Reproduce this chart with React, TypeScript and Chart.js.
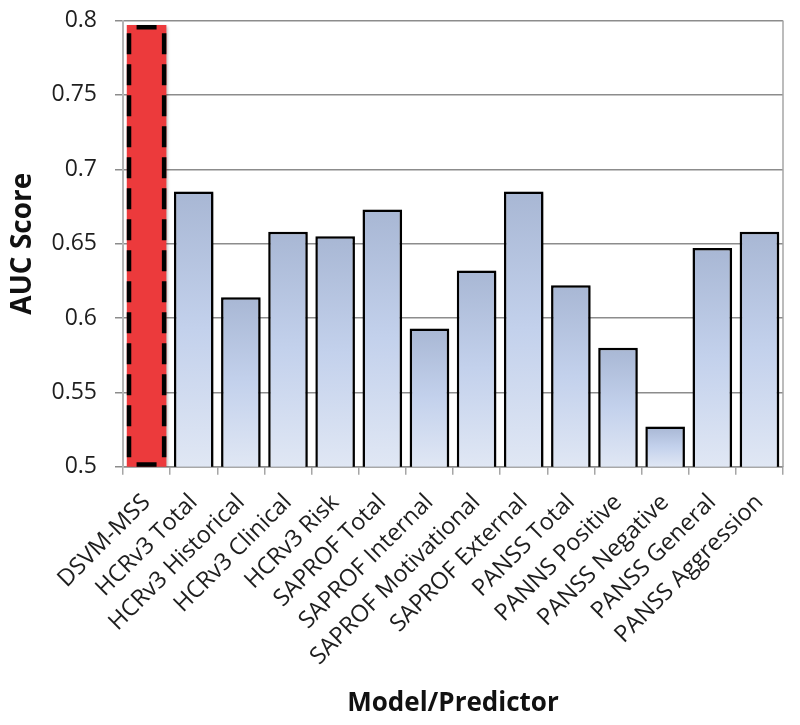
import React, { useEffect, useRef } from "react";
import { Chart, registerables } from "chart.js";

Chart.register(...registerables);

const categories = [
  "DSVM-MSS",
  "HCRv3 Total",
  "HCRv3 Historical",
  "HCRv3 Clinical",
  "HCRv3 Risk",
  "SAPROF Total",
  "SAPROF Internal",
  "SAPROF Motivational",
  "SAPROF External",
  "PANSS Total",
  "PANNS Positive",
  "PANSS Negative",
  "PANSS General",
  "PANSS Aggression",
];

const aucValues = [
  0.797, 0.685, 0.614, 0.658, 0.655, 0.673, 0.593, 0.632, 0.685, 0.622, 0.58,
  0.527, 0.647, 0.658,
];

const yTicks = [0.5, 0.55, 0.6, 0.65, 0.7, 0.75, 0.8];

const yTitle = "AUC Score";
const xTitle = "Model/Predictor";

const FONT = "'Open Sans', 'Noto Sans', sans-serif";

export default function App() {
  const ref = useRef<HTMLCanvasElement | null>(null);

  useEffect(() => {
    const canvas = ref.current;
    if (!canvas) return;

    const extras = {
      id: "extras",
      beforeDatasetDraw(chart: any) {
        const ctx = chart.ctx;
        ctx.save();
        ctx.shadowColor = "rgba(0,0,0,0.28)";
        ctx.shadowBlur = 3;
        ctx.shadowOffsetX = 2;
        ctx.shadowOffsetY = 1;
      },
      afterDatasetDraw(chart: any) {
        chart.ctx.restore();
      },
      afterDatasetsDraw(chart: any) {
        const ctx = chart.ctx;
        const { chartArea } = chart;
        const ys = chart.scales.y;
        // right border
        ctx.save();
        ctx.strokeStyle = "#a6a6a6";
        ctx.lineWidth = 1.5;
        ctx.beginPath();
        ctx.moveTo(chartArea.right, chartArea.top);
        ctx.lineTo(chartArea.right, chartArea.bottom);
        ctx.stroke();
        ctx.restore();
        // dashed outline of highlighted bar
        const el: any = chart.getDatasetMeta(0).data[0];
        if (el) {
          const lw = 4.5;
          const x = el.x;
          const w = el.width;
          const l = x - w / 2 + lw / 2;
          const r = x + w / 2 - lw / 2;
          const t = ys.getPixelForValue(aucValues[0]) + lw / 2;
          const b = ys.getPixelForValue(0.5) - lw / 2;
          ctx.save();
          ctx.strokeStyle = "#000";
          ctx.lineWidth = lw;
          ctx.setLineDash([21, 10]);
          ctx.lineDashOffset = -6;
          ctx.beginPath();
          ctx.moveTo(l, t);
          ctx.lineTo(l, b);
          ctx.stroke();
          ctx.beginPath();
          ctx.moveTo(r, t);
          ctx.lineTo(r, b);
          ctx.stroke();
          ctx.setLineDash([]);
          ctx.beginPath();
          ctx.moveTo(x - 10, t);
          ctx.lineTo(x + 10, t);
          ctx.moveTo(x - 10, b);
          ctx.lineTo(x + 10, b);
          ctx.stroke();
          ctx.restore();
        }
      },
    };

    const chart = new Chart(canvas, {
      type: "bar",
      data: {
        labels: categories,
        datasets: [
          {
            data: aucValues,
            backgroundColor: (c: any) => {
              if (c.dataIndex === 0) return "#ec3a3c";
              const chart = c.chart;
              const ys = chart.scales?.y;
              if (!chart.chartArea || !ys) return "#c5d3ec";
              const top = ys.getPixelForValue(c.raw);
              const bottom = ys.getPixelForValue(0.5);
              const g = chart.ctx.createLinearGradient(0, top, 0, bottom);
              g.addColorStop(0, "#a8b7d4");
              g.addColorStop(0.5, "#c3d1ec");
              g.addColorStop(1, "#e0e7f4");
              return g;
            },
            borderColor: (c: any) => (c.dataIndex === 0 ? "rgba(0,0,0,0)" : "#000"),
            borderWidth: (c: any) => (c.dataIndex === 0 ? 0 : 2.5),
            barPercentage: 0.84,
            categoryPercentage: 1,
          },
        ],
      },
      options: {
        responsive: false,
        animation: false,
        layout: { padding: { top: 20.6, right: 17, left: 0, bottom: 0 } },
        plugins: {
          legend: { display: false },
          tooltip: { enabled: false },
        },
        scales: {
          x: {
            grid: {
              offset: true,
              drawOnChartArea: false,
              drawTicks: true,
              tickLength: 8,
              color: "#a6a6a6",
              lineWidth: 1.5,
            },
            border: { display: true, color: "#8c8c8c", width: 1.5 },
            ticks: {
              autoSkip: false,
              maxRotation: 45,
              minRotation: 45,
              padding: 14,
              color: "#1e1e1e",
              font: { family: FONT, size: 23.5 },
            },
            title: {
              display: true,
              text: xTitle,
              color: "#111",
              font: { family: FONT, size: 26, weight: "bold" },
              padding: { top: 0, bottom: 6 },
            },
            afterFit(scale: any) {
              scale.height = 258.3;
              scale.paddingLeft = 0;
              scale.paddingRight = 0;
            },
          },
          y: {
            min: 0.5,
            max: 0.8,
            afterBuildTicks(scale: any) {
              scale.ticks = yTicks.map((v) => ({ value: v }));
            },
            ticks: {
              padding: 18,
              color: "#1e1e1e",
              font: { family: FONT, size: 23 },
              callback: (v: any) => String(+Number(v).toFixed(2)),
            },
            grid: {
              color: "#8c8c8c",
              lineWidth: 1.5,
              tickLength: 8,
            },
            border: { display: true, color: "#b4b4b4", width: 2 },
            title: {
              display: true,
              text: yTitle,
              color: "#111",
              font: { family: FONT, size: 28, weight: "bold" },
              padding: { top: 6, bottom: 0 },
            },
            afterFit(scale: any) {
              scale.width = 123;
              scale.paddingTop = 0;
              scale.paddingBottom = 0;
            },
          },
        },
      },
      plugins: [extras],
    } as any);

    return () => chart.destroy();
  }, []);

  return (
    <div style={{ position: "absolute", left: 0, top: 0, width: 800, height: 725, background: "#fff" }}>
      <canvas ref={ref} width={800} height={725} style={{ width: 800, height: 725, display: "block" }} />
    </div>
  );
}
